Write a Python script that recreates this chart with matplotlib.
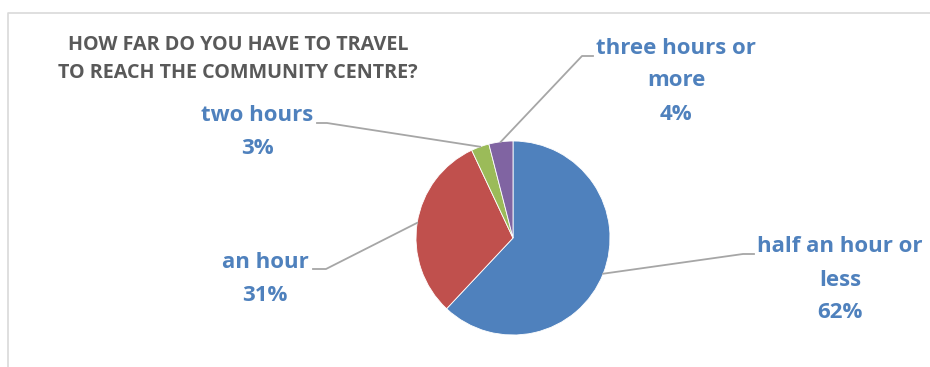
import numpy as np
import matplotlib.pyplot as plt
from matplotlib.lines import Line2D

categories = ["half an hour or\nless", "an hour", "two hours", "three hours or\nmore"]
shares = [62, 31, 3, 4]
colors = ["#4F81BD", "#C0504D", "#9BBB59", "#8064A2"]

W, H = 930, 367
plt.rcParams["font.family"] = ["Open Sans", "DejaVu Sans"]

fig = plt.figure(figsize=(W / 100, H / 100), dpi=100)
ax = fig.add_axes([0, 0, 1, 1])

# pie in pixel units (y measured upwards)
cx, cy, r = 513, H - 238, 97
wedges, _ = ax.pie(
    shares,
    colors=colors,
    startangle=90,
    counterclock=False,
    center=(cx, cy),
    radius=r,
    wedgeprops={"linewidth": 0.6, "edgecolor": "white"},
    frame=True,
)
ax.set_xlim(0, W)
ax.set_ylim(0, H)
ax.set_aspect("equal")
ax.axis("off")

# label boxes: text block centre, elbow point, end of the short horizontal
label_conf = [
    {"tx": 840, "ty": 280, "ex": 743, "ey": 254, "hx": 754},
    {"tx": 265, "ty": 279, "ex": 326, "ey": 269, "hx": 313},
    {"tx": 257, "ty": 132, "ex": 327, "ey": 123, "hx": 317},
    {"tx": 676, "ty": 81, "ex": 582, "ey": 56, "hx": 593},
]
lead_color = "#A6A6A6"
label_color = "#4F81BD"

for w, cat, val, conf in zip(wedges, categories, shares, label_conf):
    mid = np.deg2rad((w.theta1 + w.theta2) / 2)
    px = cx + r * np.cos(mid)
    py = cy + r * np.sin(mid)
    ax.add_line(
        Line2D(
            [px, conf["ex"], conf["hx"]],
            [py, H - conf["ey"], H - conf["ey"]],
            color=lead_color,
            lw=1.3,
            zorder=1,
        )
    )
    ax.text(
        conf["tx"],
        H - conf["ty"],
        f"{cat}\n{val}%",
        ha="center",
        va="center",
        ma="center",
        fontsize=16,
        fontweight="bold",
        color=label_color,
        linespacing=1.75,
    )

fig.text(
    238 / W,
    1 - 59 / H,
    "HOW FAR DO YOU HAVE TO TRAVEL\nTO REACH THE COMMUNITY CENTRE?",
    ha="center",
    va="center",
    ma="center",
    fontsize=14.2,
    fontweight="bold",
    color="#595959",
    linespacing=1.6,
)

# chart frame along top and left
fig.add_artist(Line2D([8 / W, 8 / W, 1], [0, 1 - 13 / H, 1 - 13 / H], color="#D9D9D9", lw=1.2))

fig.savefig("out.png", dpi=100)
